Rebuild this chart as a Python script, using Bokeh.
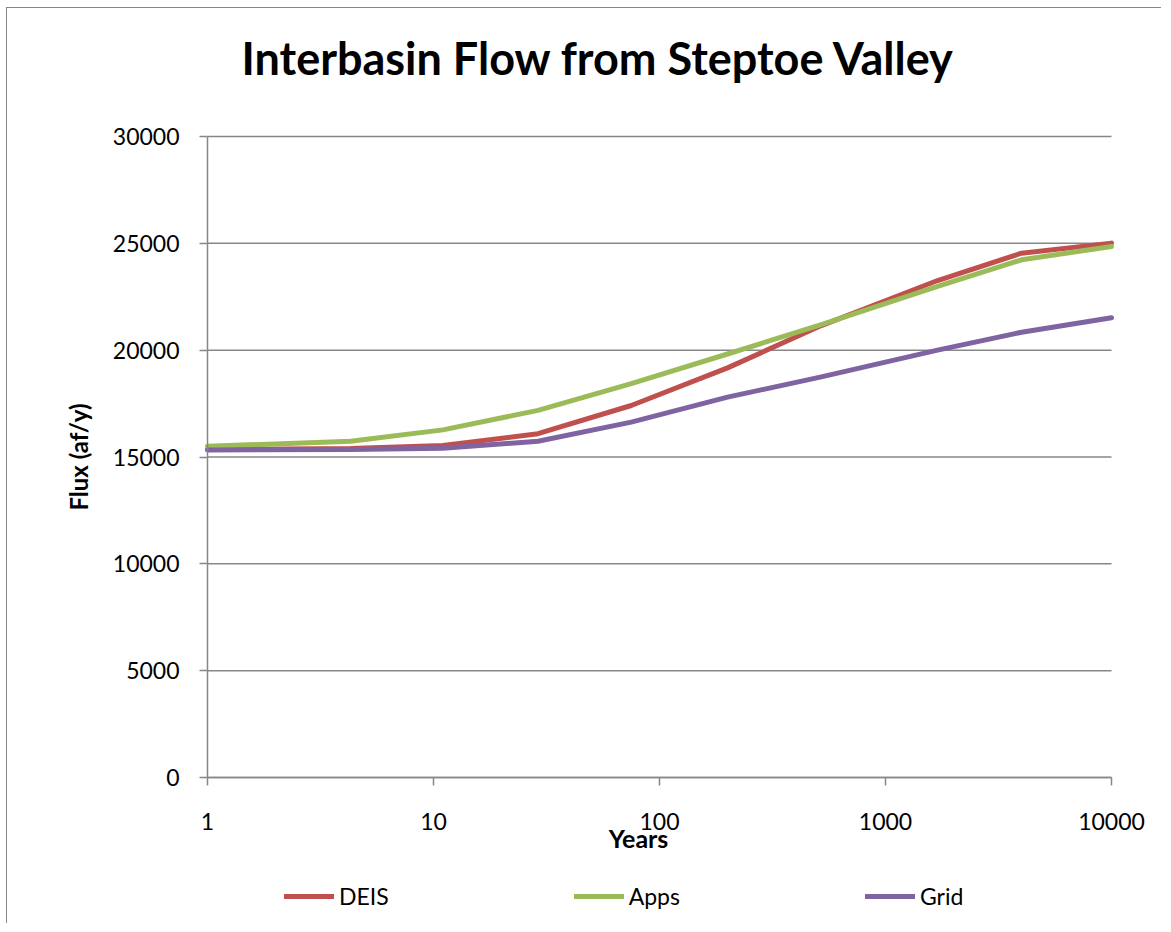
from bokeh.plotting import figure
from bokeh.models import (Range1d, FixedTicker, NumeralTickFormatter, Legend, LegendItem, Label)
from bokeh.embed import file_html
from bokeh.resources import INLINE
import math

# ---- data ----
years = [1, 4.3, 11, 29, 75, 200, 520, 1700, 4000, 10000]
deis = [15350, 15400, 15540, 16090, 17410, 19170, 21150, 23260, 24540, 25010]
apps = [15500, 15740, 16270, 17180, 18430, 19820, 21200, 22980, 24230, 24850]
grid = [15330, 15350, 15410, 15740, 16630, 17800, 18750, 20000, 20840, 21520]
series_names = ["DEIS", "Apps", "Grid"]
x_ticks = [1, 10, 100, 1000, 10000]
y_ticks = [0, 5000, 10000, 15000, 20000, 25000, 30000]
title_text = "Interbasin Flow from Steptoe Valley"
x_label = "Years"
y_label = "Flux (af/y)"

colors = ["#C0504D", "#9BBB59", "#8064A2"]
FONT = "Lato"
GRAY = "#878787"

# ---- layout (pixels) ----
W, H = 1155, 916          # canvas size
PL, PT = 200, 128         # plot area left / top offset inside canvas
DEC = 226                 # pixels per decade on the x axis
PH = 641                  # plot area height
lx0 = math.log10(x_ticks[0]) - PL / DEC
lx1 = math.log10(x_ticks[-1]) + (W - PL - DEC * 4) / DEC
ymax = y_ticks[-1]
y0 = -(H - PT - PH) / PH * ymax
y1 = ymax + PT / PH * ymax

p = figure(width=W, height=H, x_axis_type="log", output_backend="svg",
           toolbar_location=None, x_range=Range1d(10 ** lx0, 10 ** lx1),
           y_range=Range1d(y0, y1), min_border=0)
p.styles = {"margin-left": "6px", "margin-top": "7px",
            "border-left": f"1px solid {GRAY}", "border-top": f"1px solid {GRAY}"}
p.outline_line_color = None
p.background_fill_color = "white"
p.border_fill_color = "white"
p.title.visible = False
p.xgrid.visible = False
p.ygrid.visible = False

# gridlines drawn from the tick values, spanning the x-axis extent
p.segment(x0=[x_ticks[0]] * len(y_ticks), x1=[x_ticks[-1]] * len(y_ticks),
          y0=y_ticks, y1=y_ticks, line_color=GRAY, line_width=1.5)

# axes fixed at data origin
p.xaxis.fixed_location = 0
p.yaxis.fixed_location = x_ticks[0]
p.xaxis.bounds = (x_ticks[0], x_ticks[-1])
p.yaxis.bounds = (y_ticks[0], y_ticks[-1])
p.xaxis.ticker = FixedTicker(ticks=x_ticks, minor_ticks=[])
p.yaxis.ticker = FixedTicker(ticks=y_ticks, minor_ticks=[])
p.xaxis.formatter = NumeralTickFormatter(format="0")
p.yaxis.formatter = NumeralTickFormatter(format="0")
for ax in (p.xaxis[0], p.yaxis[0]):
    ax.axis_line_color = GRAY
    ax.axis_line_width = 1.5
    ax.major_tick_line_color = GRAY
    ax.major_tick_line_width = 1.5
    ax.major_tick_out = 8
    ax.major_tick_in = 0
    ax.minor_tick_line_color = None
    ax.major_label_text_font = FONT
    ax.major_label_text_font_size = "23px"
    ax.major_label_text_color = "black"
    ax.axis_label_text_font = FONT
    ax.axis_label_text_font_style = "bold"
    ax.axis_label_text_color = "black"
p.xaxis.major_label_standoff = 27
p.yaxis.major_label_standoff = 20
p.yaxis.axis_label = y_label
p.yaxis.axis_label_text_font_size = "24px"
p.yaxis.axis_label_standoff = 17

# lines
renderers = []
for name, vals, col in zip(series_names, [deis, apps, grid], colors):
    renderers.append(p.line(years, vals, line_color=col, line_width=5,
                            line_join="round", line_cap="round"))

# title and x-axis label
p.add_layout(Label(x=234, y=H - 49, x_units="screen", y_units="screen", text=title_text,
                   text_font=FONT, text_font_style="bold", text_font_size="45px",
                   text_align="left", text_baseline="alphabetic", text_color="black"))
p.add_layout(Label(x=631, y=H - 829, x_units="screen", y_units="screen", text=x_label,
                   text_font=FONT, text_font_style="bold", text_font_size="25px",
                   text_align="center", text_baseline="middle", text_color="black"))

legend = Legend(items=[LegendItem(label=n, renderers=[r]) for n, r in zip(series_names, renderers)],
                orientation="horizontal", location=(277, 14),
                spacing=185, glyph_width=50, glyph_height=26, label_standoff=5,
                padding=0, margin=0, border_line_color=None, background_fill_alpha=0,
                label_text_font=FONT, label_text_font_size="23px", label_text_color="black")
p.add_layout(legend, "center")

open("out.html", "w").write(file_html(p, INLINE))
